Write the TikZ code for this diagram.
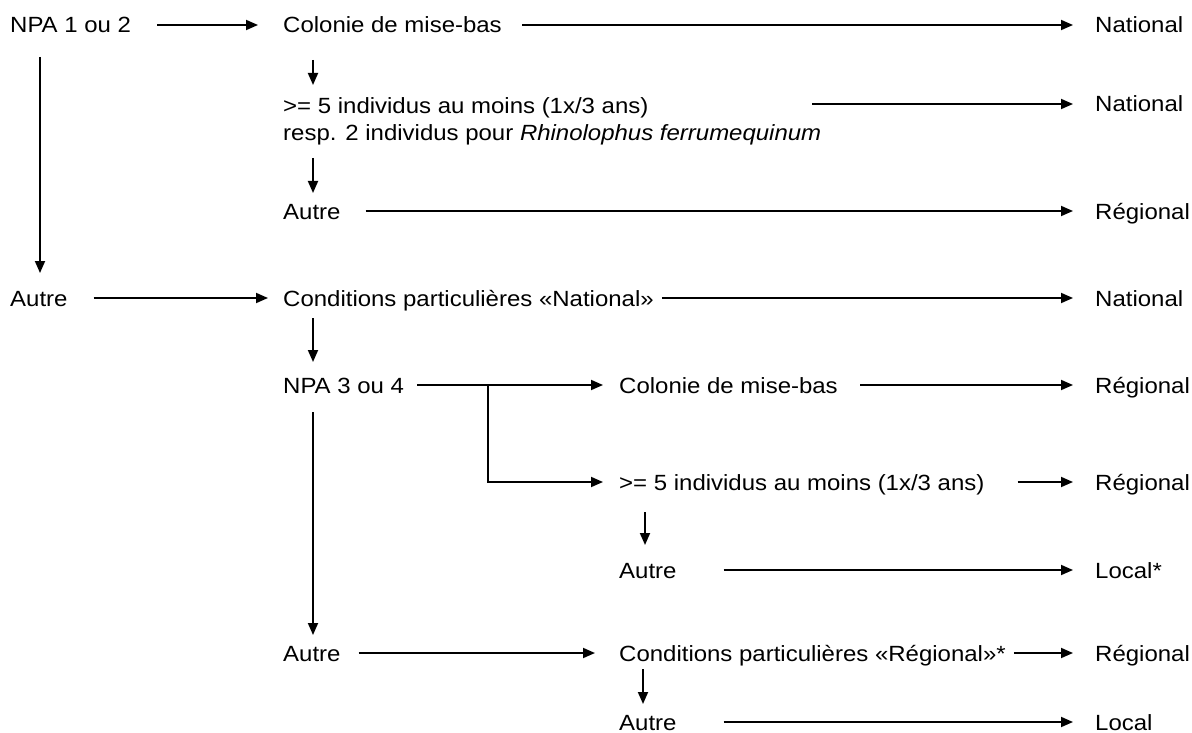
\documentclass[tikz,border=0pt]{standalone}
\usepackage{fontspec}
\setmainfont{Liberation Sans}[FakeStretch=1.09]
\usetikzlibrary{arrows.meta,calc}

\begin{document}
\begin{tikzpicture}[x=1pt,y=-1pt,
  lbl/.style={anchor=west, inner sep=0pt, text height=16pt, text depth=0pt,
    font=\fontsize{22}{26}\selectfont},
  arr/.style={line width=1.8pt, -{Triangle[length=12pt,width=10pt]}},
  gaps/.style 2 args={shorten <=#1pt, shorten >=#2pt}]
\useasboundingbox (0,0) rectangle (1192,733);

% First column
\node[lbl] (npaA) at (10,25) {NPA 1 ou 2};
\node[lbl] (autB) at (10,298) {Autre};

% Second column
\node[lbl] (colA) at (283,25) {Colonie de mise-bas};
\node[lbl] (indA) at (283,106) {>= 5 individus au moins (1x/3 ans)};
\node[lbl] (respA) at (283,133) {resp. 2 individus pour \textit{Rhinolophus ferrumequinum}};
\node[lbl] (autA) at (283,211) {Autre};
\node[lbl] (condN) at (283,298) {Conditions particulières «National»};
\node[lbl] (npaB) at (283,385) {NPA 3 ou 4};
\node[lbl] (autD) at (283,653) {Autre};

% Third column
\node[lbl] (colB) at (619,385) {Colonie de mise-bas};
\node[lbl] (indB) at (619,482) {>= 5 individus au moins (1x/3 ans)};
\node[lbl] (autC) at (619,570) {Autre};
\node[lbl] (condR) at (619,653) {Conditions particulières «Régional»*};
\node[lbl] (autE) at (619,722) {Autre};

% Results
\node[lbl] (natA) at (1095,25) {National};
\node[lbl] (natB) at (1095,104) {National};
\node[lbl] (regA) at (1095,211) {Régional};
\node[lbl] (natC) at (1095,298) {National};
\node[lbl] (regB) at (1095,385) {Régional};
\node[lbl] (regC) at (1095,482) {Régional};
\node[lbl] (locA) at (1095,570) {Local*};
\node[lbl] (regD) at (1095,653) {Régional};
\node[lbl] (locB) at (1095,722) {Local};

\coordinate (sA) at (812,104);
\coordinate (brB) at (488,385);

% Horizontal arrows
\draw[arr, gaps={26}{25}] (npaA) -- (colA);
\draw[arr, gaps={20}{22}] (colA) -- (natA);
\draw[arr, shorten >=22pt] (sA) -- (natB);
\draw[arr, gaps={25}{22}] (autA) -- (regA);
\draw[arr, gaps={26}{15}] (autB) -- (condN);
\draw[arr, gaps={8}{22}] (condN) -- (natC);
\draw[arr, gaps={13}{16}] (npaB) -- (colB);
\draw[arr, shorten >=16pt] (brB) |- (indB);
\draw[arr, gaps={22}{22}] (colB) -- (regB);
\draw[arr, gaps={33}{22}] (indB) -- (regC);
\draw[arr, gaps={47}{22}] (autC) -- (locA);
\draw[arr, gaps={18}{24}] (autD) -- (condR);
\draw[arr, gaps={8}{22}] (condR) -- (regD);
\draw[arr, gaps={47}{22}] (autE) -- (locB);

% Vertical arrows
\draw[arr] ($(npaA.west)+(30,32)$) -- ($(autB.west)+(30,-25)$);
\draw[arr] ($(colA.west)+(30,35)$) -- ($(indA.west)+(30,-21)$);
\draw[arr] ($(respA.west)+(30,25)$) -- ($(autA.west)+(30,-18)$);
\draw[arr] ($(condN.west)+(30,20)$) -- ($(npaB.west)+(30,-23)$);
\draw[arr] ($(npaB.west)+(30,27)$) -- ($(autD.west)+(30,-18)$);
\draw[arr] ($(indB.west)+(26,30)$) -- ($(autC.west)+(26,-25)$);
\draw[arr] ($(condR.west)+(24,16)$) -- ($(autE.west)+(24,-18)$);
\end{tikzpicture}
\end{document}
